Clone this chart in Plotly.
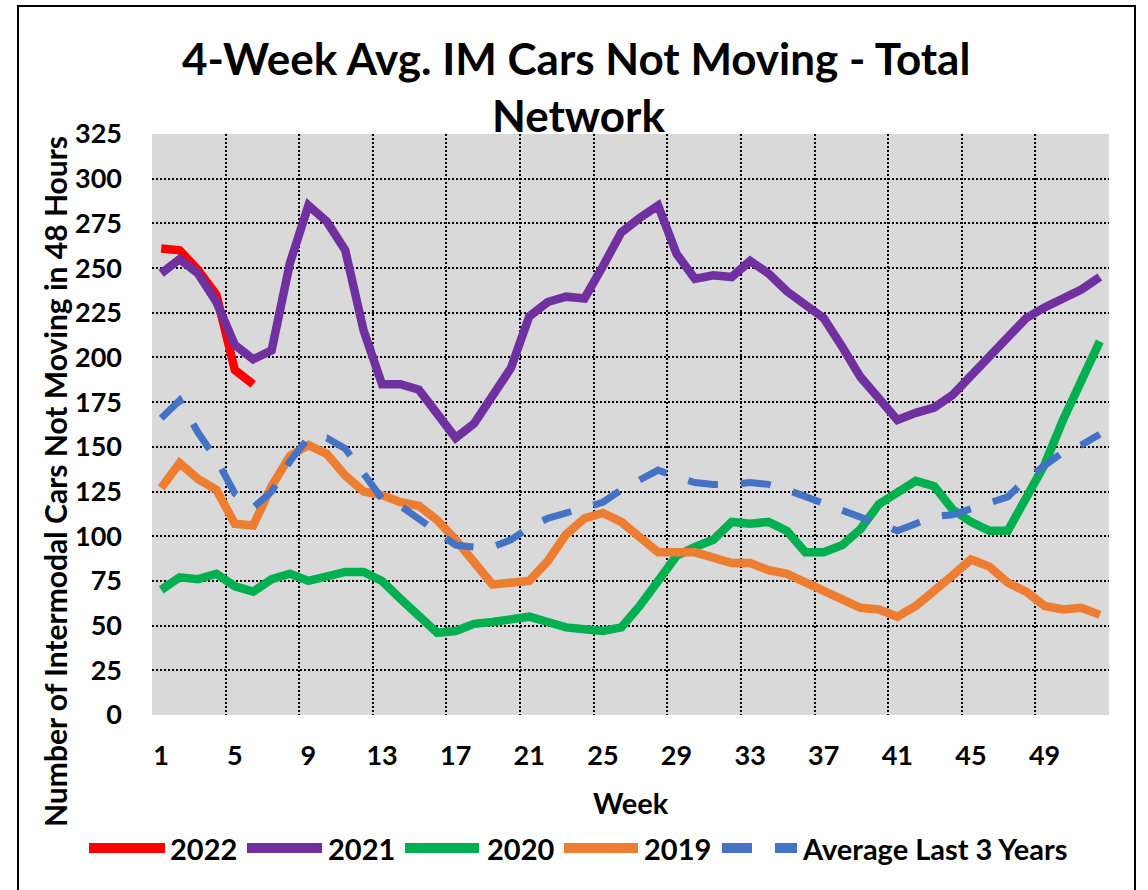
import plotly.graph_objects as go

weeks = list(range(1, 53))
tick_weeks = [1, 5, 9, 13, 17, 21, 25, 29, 33, 37, 41, 45, 49]
tick_labels = [str(w) for w in tick_weeks]
y_ticks = list(range(0, 326, 25))

y2022 = [261, 260, 249, 235, 193, 185]
y2021 = [247, 255, 247, 231, 207, 199, 204, 253, 285, 276, 260, 215, 185, 185, 182, 169,
         155, 163, 178, 194, 223, 231, 234, 233, 251, 270, 278, 285, 258, 244, 246, 245,
         254, 247, 237, 230, 222, 206, 189, 177, 165, 169, 172, 179, 190, 201, 212, 222,
         228, 233, 238, 245]
y2020 = [70, 77, 76, 79, 72, 69, 76, 79, 75, 78, 80, 80, 75, 65, 56, 46,
         47, 51, 52, 53, 55, 52, 49, 48, 47, 49, 61, 75, 89, 94, 98, 108,
         107, 108, 103, 91, 91, 95, 104, 118, 124, 131, 128, 115, 108, 103, 103, 122,
         140, 165, 188, 209]
y2019 = [127, 141, 132, 126, 107, 106, 128, 145, 151, 146, 134, 125, 123, 119, 117, 109,
         98, 86, 73, 74, 75, 86, 101, 110, 113, 108, 99, 91, 91, 91, 88, 85,
         85, 81, 79, 74, 69, 64, 60, 59, 55, 61, 69, 78, 87, 83, 74, 69,
         61, 59, 60, 56]
y_avg = [166, 176, 158, 143, 124, 116, 125, 142, 155, 155, 149, 135, 121, 117, 110, 102,
         95, 94, 94, 98, 105, 110, 113, 115, 119, 126, 131, 137, 133, 130, 129, 129,
         130, 129, 126, 122, 118, 114, 110, 107, 103, 107, 111, 112, 115, 119, 122, 132,
         139, 147, 151, 157]

series = [
    ("2022", y2022, "#FF0000", "solid", 8.5),
    ("2021", y2021, "#7030A0", "solid", 8.5),
    ("2020", y2020, "#00B050", "solid", 8.5),
    ("2019", y2019, "#ED7D31", "solid", 8.5),
    ("Average Last 3 Years", y_avg, "#4472C4", "30px,23px", 7),
]

FONT = "Lato"

# plot area in pixels
L, R, T, B = 152, 1109, 134, 715
W, H = 1148, 890
PW, PH = R - L, B - T


def px(x):
    return (x - L) / PW


def py(y):
    return (B - y) / PH


fig = go.Figure()
for name, ys, color, dash, width in series:
    fig.add_trace(go.Scatter(
        x=weeks[:len(ys)], y=ys, mode="lines", name=name,
        line=dict(color=color, width=width, dash=dash),
        showlegend=False,
    ))

grid = dict(color="black", width=2, dash="2px,2px")
tickfont = dict(family=FONT, size=27, color="black", weight="bold")

fig.update_layout(
    width=W, height=H,
    margin=dict(l=L, r=W - R, t=T, b=H - B),
    paper_bgcolor="white",
    plot_bgcolor="#D9D9D9",
    font=dict(family=FONT, size=26, color="black", weight="bold"),
    xaxis=dict(
        range=[0.5, 52.5],
        tickmode="array", tickvals=tick_weeks, ticktext=tick_labels,
        showgrid=False, zeroline=False, showline=False, ticks="",
        ticklabelstandoff=22,
        tickfont=tickfont,
        minor=dict(tickmode="array",
                   tickvals=[0.5 + 4 * k for k in range(14)],
                   showgrid=True, gridcolor=grid["color"],
                   gridwidth=grid["width"], griddash=grid["dash"], ticks=""),
    ),
    yaxis=dict(
        range=[0, 325],
        tickmode="array", tickvals=y_ticks,
        showgrid=True, gridcolor=grid["color"], gridwidth=grid["width"],
        griddash=grid["dash"],
        zeroline=False, showline=False, ticks="",
        ticklabelstandoff=29,
        tickfont=tickfont,
    ),
)

ann = []
# title (two lines)
ann.append(dict(text="4-Week Avg. IM Cars Not Moving - Total", x=px(576), y=py(58),
                xref="paper", yref="paper", xanchor="center", yanchor="middle",
                showarrow=False, font=dict(family=FONT, size=44, weight="bold")))
ann.append(dict(text="Network", x=px(578), y=py(115),
                xref="paper", yref="paper", xanchor="center", yanchor="middle",
                showarrow=False, font=dict(family=FONT, size=44, weight="bold")))
# axis titles
ann.append(dict(text="Number of Intermodal Cars Not Moving in 48 Hours", x=px(55), y=py(482),
                xref="paper", yref="paper", xanchor="center", yanchor="middle",
                textangle=-90, showarrow=False,
                font=dict(family=FONT, size=30, weight="bold")))
ann.append(dict(text="Week", x=px(631), y=py(802),
                xref="paper", yref="paper", xanchor="center", yanchor="middle",
                showarrow=False, font=dict(family=FONT, size=29, weight="bold")))

shapes = []
# outer border
shapes.append(dict(type="rect", xref="paper", yref="paper",
                   x0=px(18), x1=px(1135), y0=py(893), y1=py(6),
                   line=dict(color="black", width=2), fillcolor="rgba(0,0,0,0)"))

# manual legend
legend_items = [
    ("2022", "#FF0000", "solid", 89, 165, 168),
    ("2021", "#7030A0", "solid", 247, 322, 326),
    ("2020", "#00B050", "solid", 405, 479, 485),
    ("2019", "#ED7D31", "solid", 564, 638, 642),
    ("Average Last 3 Years", "#4472C4", "30px,23px", 722, 797, 800),
]
LY = 848
for name, color, dash, x0, x1, tx in legend_items:
    shapes.append(dict(type="line", xref="paper", yref="paper",
                       x0=px(x0), x1=px(x1), y0=py(LY), y1=py(LY),
                       line=dict(color=color, width=10, dash=dash)))
    ann.append(dict(text=name, x=px(tx), y=py(LY), xref="paper", yref="paper",
                    xanchor="left", yanchor="middle", showarrow=False,
                    font=dict(family=FONT, size=29, weight="bold")))

fig.update_layout(annotations=ann, shapes=shapes)

fig.write_html("out.html", config={"displayModeBar": False},
               post_script="document.body.style.margin='0';")
